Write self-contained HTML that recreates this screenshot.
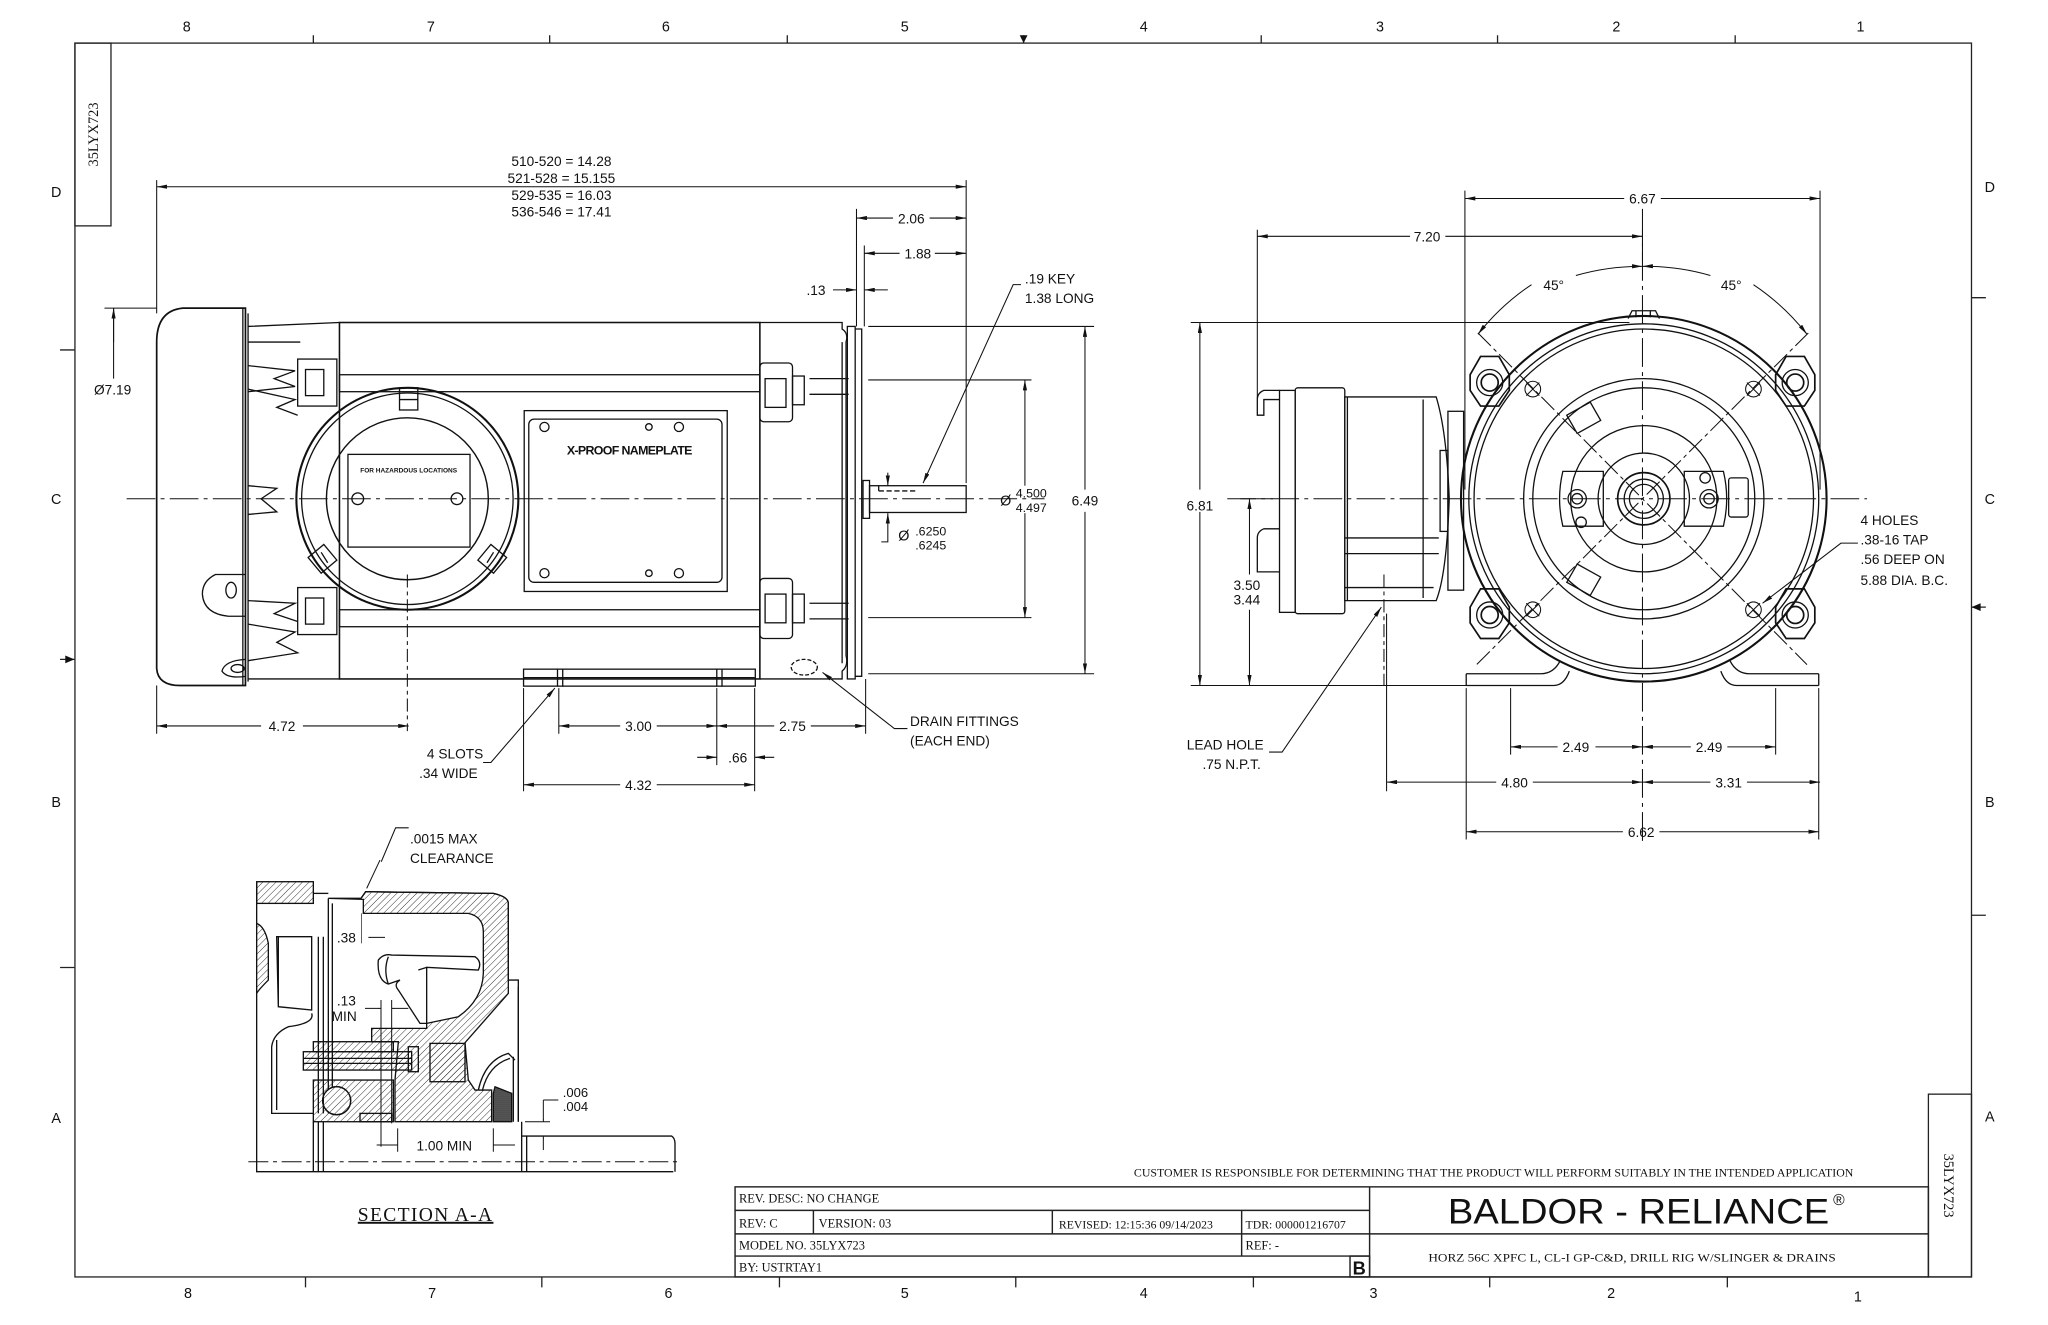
<!DOCTYPE html>
<html><head><meta charset="utf-8"><style>
html,body{margin:0;padding:0;background:#fff;}
svg{display:block;}
text{font-family:"Liberation Sans",sans-serif;fill:#111;}
.s{font-family:"Liberation Serif",serif;}
</style></head><body>
<svg width="2048" height="1325" viewBox="0 0 1568.6 1014.8" preserveAspectRatio="none" xmlns="http://www.w3.org/2000/svg">
<defs>
<marker id="a" viewBox="0 0 10 4" refX="10" refY="2" markerWidth="8" markerHeight="3.2" markerUnits="userSpaceOnUse" orient="auto-start-reverse"><path d="M0,0 L10,2 L0,4 Z" fill="#111"/></marker>
<pattern id="h" patternUnits="userSpaceOnUse" width="14" height="14" patternTransform="rotate(45)"><line x1="0" y1="0" x2="0" y2="14" stroke="#111" stroke-width="2.5"/></pattern>
<pattern id="x" patternUnits="userSpaceOnUse" width="6" height="6"><rect width="6" height="6" fill="#fff"/><path d="M0,0 L6,6 M6,0 L0,6" stroke="#111" stroke-width="2"/></pattern>
</defs>
<rect x="0" y="0" width="1568.6" height="1014.8" fill="#fff"/>
<g fill="none" stroke="#222" stroke-width="1">
<rect x="57.4" y="33" width="1452.6" height="945"/>
<rect x="57.4" y="33" width="27.6" height="140"/>
<rect x="1477" y="838" width="33" height="140"/>
<path d="M240,27V33 M421,27V33 M603,27V33 M784,27V33 M966,27V33 M1147,27V33 M1329,27V33"/>
<path d="M234,978V986 M415,978V986 M597,978V986 M778,978V986 M960,978V986 M1141,978V986 M1323,978V986"/>
<path d="M46,268H57 M46,741H57 M1510,228H1521 M1510,701H1521"/>
<path d="M46,505H57 M1510,465H1521"/>
</g>
<path d="M57,505 l-7,-3 v6z M1510,465 l7,-3 v6z M784,33 l-3,-6 h6z" fill="#111"/>
<g font-size="11" text-anchor="middle">
<text x="143" y="24">8</text><text x="330" y="24">7</text><text x="510" y="24">6</text><text x="693" y="24">5</text><text x="876" y="24">4</text><text x="1057" y="24">3</text><text x="1238" y="24">2</text><text x="1425" y="24">1</text>
<text x="144" y="994">8</text><text x="331" y="994">7</text><text x="512" y="994">6</text><text x="693" y="994">5</text><text x="876" y="994">4</text><text x="1052" y="994">3</text><text x="1234" y="994">2</text><text x="1423" y="997">1</text>
<text x="43" y="151">D</text><text x="43" y="386">C</text><text x="43" y="618">B</text><text x="43" y="860">A</text>
<text x="1524" y="147">D</text><text x="1524" y="386">C</text><text x="1524" y="618">B</text><text x="1524" y="859">A</text>
</g>
<text class="s" font-size="11" transform="translate(75,103) rotate(-90)" text-anchor="middle">35LYX723</text>
<text class="s" font-size="11" transform="translate(1489,908) rotate(90)" text-anchor="middle">35LYX723</text>

<g fill="none" stroke="#111" stroke-width="1">
<path d="M97,382H800" stroke-dasharray="22,4,3,4" stroke-width="0.8"/>
<path d="M188,236 H140 Q120,238 120,262 V512 Q121,525 138,525 H188 Z" stroke-width="1.3"/>
<path d="M186,236V525 M190,240V522"/>
<path d="M190,250 L260,247 M190,520 L260,520 M190,262 L230,262"/>
<path d="M190,280 L226,284 L210,290 L226,296 L190,300 M190,298 L226,306 L212,312 L228,318"/>
<path d="M190,372 L212,374 L200,382 L212,392 L190,394"/>
<path d="M190,460 L226,462 L210,470 L228,476 M190,478 L226,484 L212,492 L228,500 L190,506"/>
<rect x="228" y="275" width="30" height="36"/><rect x="234" y="283" width="14" height="20"/>
<rect x="228" y="450" width="30" height="36"/><rect x="234" y="458" width="14" height="20"/>
<path d="M188,440 H165 Q155,445 155,455 Q156,470 175,472 H188"/><ellipse cx="177" cy="452" rx="4" ry="6"/>
<path d="M188,505 Q172,506 170,514 Q174,520 188,518"/><ellipse cx="182" cy="512" rx="5" ry="3"/>
<rect x="260" y="247" width="322" height="273" stroke-width="1.2"/>
<rect x="260" y="287" width="322" height="13"/>
<rect x="260" y="467" width="322" height="13"/>
<path d="M582,247 H645 V252 Q650,255 648,262 V502 Q650,510 645,514 V520 H582"/>
<path d="M645,262 V508"/>
<rect x="649" y="250" width="6" height="270"/>
<path d="M655,252 H660 V518 H655"/>
<path d="M620,290 H650 M620,302 H650 M620,462 H650 M620,474 H650"/>
<rect x="582" y="278" width="25" height="45" rx="3"/><rect x="586" y="290" width="16" height="22"/><rect x="607" y="288" width="9" height="22"/>
<rect x="582" y="443" width="25" height="46" rx="3"/><rect x="586" y="455" width="16" height="22"/><rect x="607" y="455" width="9" height="22"/>
<ellipse cx="616" cy="511" rx="10" ry="6" stroke-dasharray="3,1.5"/>
<circle cx="312" cy="382" r="85" stroke-width="1.6"/>
<circle cx="312" cy="382" r="81"/>
<circle cx="312" cy="382" r="62" stroke-width="1.1"/>
<rect x="266.5" y="348" width="93.5" height="71"/>
<circle cx="274" cy="382" r="4.5"/><circle cx="350" cy="382" r="4.5"/>
<rect x="306" y="297" width="14" height="17"/><path d="M306,306H320"/>
<path d="M236,427 l12,-10 l10,12 l-12,10z M246,423 l5,8"/>
<path d="M388,427 l-12,-10 l-10,12 l12,10z M378,423 l-5,8"/>
<path d="M312,440 V560" stroke-dasharray="10,3,3,3" stroke-width="0.8"/>
<rect x="401.5" y="314.5" width="155.5" height="138.5"/>
<rect x="405" y="321" width="148" height="125" rx="4"/>
<circle cx="417" cy="327" r="3.5"/><circle cx="497" cy="327" r="2.5"/><circle cx="520" cy="327" r="3.5"/>
<circle cx="417" cy="439" r="3.5"/><circle cx="497" cy="439" r="2.5"/><circle cx="520" cy="439" r="3.5"/>
<rect x="401" y="512.5" width="177.5" height="13"/><path d="M401,519H578 M427,512V526 M431,512V526 M549,512V526 M553,512V526"/>
<rect x="661" y="368" width="5" height="29"/>
<rect x="666" y="372" width="74" height="20.5"/>
<path d="M673,376H703 M673,372V376" stroke-dasharray="4,2"/>
</g>
<text x="482" y="348" font-size="9.5" font-weight="bold" text-anchor="middle" letter-spacing="-0.5">X-PROOF NAMEPLATE</text>
<text x="313" y="362" font-size="5" font-weight="bold" text-anchor="middle">FOR HAZARDOUS LOCATIONS</text>

<g fill="none" stroke="#111" stroke-width="0.8">
<path d="M120,138V240 M740,138V370 M656,160V250 M662,188V250"/>
<path d="M120,143H740" marker-start="url(#a)" marker-end="url(#a)"/>
<path d="M684,167H656" marker-end="url(#a)"/><path d="M712,167H740" marker-end="url(#a)"/>
<path d="M689,194H662" marker-end="url(#a)"/><path d="M716,194H740" marker-end="url(#a)"/>
<path d="M638,222H656" marker-end="url(#a)"/><path d="M680,222H662" marker-end="url(#a)"/>
<path d="M782,218 H776 L707,370" marker-end="url(#a)"/>
<path d="M80,236H120 M87,236V290" /><path d="M87,262V236" marker-end="url(#a)"/>
<path d="M665,291H790 M665,473H790"/>
<path d="M785,372V291" marker-end="url(#a)"/><path d="M785,393V473" marker-end="url(#a)"/>
<path d="M665,250H838 M665,516H838"/>
<path d="M831,375V250" marker-end="url(#a)"/><path d="M831,392V516" marker-end="url(#a)"/>
<path d="M675,415 H680 V393" marker-end="url(#a)"/><path d="M680,362V372" marker-end="url(#a)"/>
<path d="M120,525V562 M401,527V606 M428,527V562 M549,527V586 M578,527V606 M663,520V562"/>
<path d="M200,556H120" marker-end="url(#a)"/><path d="M232,556H313" marker-end="url(#a)"/>
<path d="M475,556H428" marker-end="url(#a)"/><path d="M503,556H549" marker-end="url(#a)"/>
<path d="M593,556H549" marker-end="url(#a)"/><path d="M621,556H663" marker-end="url(#a)"/>
<path d="M534,580H549" marker-end="url(#a)"/><path d="M593,580H578" marker-end="url(#a)"/>
<path d="M475,601H401" marker-end="url(#a)"/><path d="M503,601H578" marker-end="url(#a)"/>
<path d="M370,584 H376 L425,527" marker-end="url(#a)"/>
<path d="M695,558 H685 L630,515" marker-end="url(#a)"/>
</g>
<g font-size="10.5" text-anchor="middle">
<text x="430" y="127">510-520 = 14.28</text>
<text x="430" y="140">521-528 = 15.155</text>
<text x="430" y="153">529-535 = 16.03</text>
<text x="430" y="166">536-546 = 17.41</text>
<text x="698" y="171">2.06</text>
<text x="703" y="198">1.88</text>
<text x="625" y="226">.13</text>
<text x="216" y="560">4.72</text>
<text x="489" y="560">3.00</text>
<text x="607" y="560">2.75</text>
<text x="565" y="584">.66</text>
<text x="489" y="605">4.32</text>
<text x="831" y="387">6.49</text>
</g>
<g font-size="10.5">
<text x="785" y="217">.19 KEY</text><text x="785" y="232">1.38 LONG</text>
<text x="72" y="302">Ø7.19</text>
<text x="766" y="387" font-size="11">Ø</text><text x="778" y="381" font-size="9.5">4.500</text><text x="778" y="392" font-size="9.5">4.497</text>
<text x="688" y="414" font-size="11">Ø</text><text x="701" y="410" font-size="9.5">.6250</text><text x="701" y="421" font-size="9.5">.6245</text>
<text x="327" y="581">4 SLOTS</text><text x="321" y="596">.34 WIDE</text>
<text x="697" y="556">DRAIN FITTINGS</text><text x="697" y="571">(EACH END)</text>
</g>

<g fill="none" stroke="#111" stroke-width="1">
<path d="M940,382H1430" stroke-dasharray="22,4,3,4" stroke-width="0.8"/>
<path d="M1258,160V645" stroke-dasharray="22,4,3,4" stroke-width="0.8"/>
<circle cx="1259" cy="382" r="140" stroke-width="1.6"/>
<circle cx="1259" cy="382" r="134"/>
<circle cx="1259" cy="382" r="130"/>
<circle cx="1259" cy="382" r="92"/>
<circle cx="1259" cy="382" r="85"/>
<circle cx="1259" cy="382" r="56"/>
<circle cx="1259" cy="382" r="35"/>
<circle cx="1259" cy="382" r="20" stroke-width="1.3"/>
<circle cx="1259" cy="382" r="15"/>
<circle cx="1259" cy="382" r="11"/>
<path d="M1247,244 L1250,238 H1268 L1271,244 M1253,238V243 M1264,238V243"/>
<path d="M1126,287 l8,-14 l14,0 l8,14 l0,12 l-8,12 l-14,0 l-8,-12z" stroke-width="1.3"/><circle cx="1141" cy="293" r="10"/><circle cx="1141" cy="293" r="6.5" stroke-width="1.3"/>
<path d="M1360,287 l8,-14 l14,0 l8,14 l0,12 l-8,12 l-14,0 l-8,-12z" stroke-width="1.3"/><circle cx="1375" cy="293" r="10"/><circle cx="1375" cy="293" r="6.5" stroke-width="1.3"/>
<path d="M1126,465 l8,-14 l14,0 l8,14 l0,12 l-8,12 l-14,0 l-8,-12z" stroke-width="1.3"/><circle cx="1141" cy="471" r="10"/><circle cx="1141" cy="471" r="6.5" stroke-width="1.3"/>
<path d="M1360,465 l8,-14 l14,0 l8,14 l0,12 l-8,12 l-14,0 l-8,-12z" stroke-width="1.3"/><circle cx="1375" cy="471" r="10"/><circle cx="1375" cy="471" r="6.5" stroke-width="1.3"/>
<g stroke-width="0.8">
<circle cx="1174" cy="298" r="6"/><path d="M1169,293l10,10M1179,293l-10,10"/>
<circle cx="1343" cy="298" r="6"/><path d="M1338,293l10,10M1348,293l-10,10"/>
<circle cx="1174" cy="467" r="6"/><path d="M1169,462l10,10M1179,462l-10,10"/>
<circle cx="1343" cy="467" r="6"/><path d="M1338,462l10,10M1348,462l-10,10"/>
<path d="M1132,255 L1384,509 M1385,255 L1131,509" stroke-dasharray="14,3,3,3"/>
</g>
<path d="M1200,318 l18,-10 l8,14 l-18,10z M1200,446 l18,10 l8,-14 l-18,-10z"/>
<rect x="1324" y="366" width="15" height="30" rx="2"/>
<path d="M1197,361 H1228 V403 H1197 Q1192,382 1197,361 Z M1290,361 H1320 Q1325,382 1320,403 H1290 Z"/>
<circle cx="1208" cy="382" r="7"/><circle cx="1208" cy="382" r="4"/>
<circle cx="1309" cy="382" r="7"/><circle cx="1309" cy="382" r="4"/>
<circle cx="1211" cy="400" r="4"/><circle cx="1306" cy="366" r="4"/>
<path d="M1123,516 H1180 Q1190,516 1195,506 M1123,525 H1190 Q1198,525 1202,514"/>
<path d="M1393,516 H1340 Q1330,516 1325,506 M1393,525 H1330 Q1322,525 1318,514"/>
<path d="M1123,516V525 M1393,516V525"/>
<path d="M980,299 H968 Q963,301 963,306 V318 H968 V306 H980"/>
<path d="M980,405 H968 Q963,407 963,412 V438 H980"/>
<rect x="980" y="299" width="12" height="170"/>
<rect x="992" y="297" width="38" height="173" rx="2"/>
<path d="M1030,304 H1100 Q1108,330 1110,382 Q1108,440 1100,460 H1030 Z"/>
<path d="M1032,304V460 M1090,306V458 M1030,412H1102 M1030,424H1102 M1030,450H1098"/>
<rect x="1109" y="315" width="12" height="137"/>
<rect x="1103" y="345" width="6" height="62"/>
<path d="M1060,440V525" stroke-dasharray="10,3,3,3" stroke-width="0.8"/>
</g>
<g fill="none" stroke="#111" stroke-width="0.8">
<path d="M1122,146V375 M1394,146V375 M963,176V305 M1258,176V200"/>
<path d="M1244,152H1122" marker-end="url(#a)"/><path d="M1272,152H1394" marker-end="url(#a)"/>
<path d="M1080,181H963" marker-end="url(#a)"/><path d="M1107,181H1258" marker-end="url(#a)"/>
<path d="M1173,218 A178,178 0 0 0 1132,256" marker-end="url(#a)"/>
<path d="M1207,211 A178,178 0 0 1 1258,204" marker-end="url(#a)"/>
<path d="M1343,218 A178,178 0 0 1 1384,256" marker-end="url(#a)"/>
<path d="M1310,211 A178,178 0 0 0 1258,204" marker-end="url(#a)"/>
<path d="M912,247H1248 M912,525H1125 M950,382H975"/>
<path d="M919,375V247" marker-end="url(#a)"/><path d="M919,392V525" marker-end="url(#a)"/>
<path d="M957,440V382" marker-end="url(#a)"/><path d="M957,467V525" marker-end="url(#a)"/>
<path d="M1062,470V606 M1123,527V643 M1157,527V578 M1360,527V578 M1393,527V643"/>
<path d="M1193,572H1157" marker-end="url(#a)"/><path d="M1222,572H1258" marker-end="url(#a)"/>
<path d="M1295,572H1258" marker-end="url(#a)"/><path d="M1323,572H1360" marker-end="url(#a)"/>
<path d="M1146,599H1062" marker-end="url(#a)"/><path d="M1174,599H1258" marker-end="url(#a)"/>
<path d="M1310,599H1258" marker-end="url(#a)"/><path d="M1338,599H1394" marker-end="url(#a)"/>
<path d="M1243,637H1123" marker-end="url(#a)"/><path d="M1271,637H1393" marker-end="url(#a)"/>
<path d="M1423,416 H1410 L1350,462" marker-end="url(#a)"/>
<path d="M972,576 H982 L1058,465" marker-end="url(#a)"/>
</g>
<g font-size="10.5" text-anchor="middle">
<text x="1258" y="156">6.67</text>
<text x="1093" y="185">7.20</text>
<text x="1190" y="222">45°</text><text x="1326" y="222">45°</text>
<text x="919" y="391">6.81</text>
<text x="955" y="452">3.50</text><text x="955" y="463">3.44</text>
<text x="1207" y="576">2.49</text><text x="1309" y="576">2.49</text>
<text x="1160" y="603">4.80</text><text x="1324" y="603">3.31</text>
<text x="1257" y="641">6.62</text>
</g>
<g font-size="10.5">
<text x="1425" y="402">4 HOLES</text><text x="1425" y="417">.38-16 TAP</text><text x="1425" y="432">.56 DEEP ON</text><text x="1425" y="448">5.88 DIA. B.C.</text>
<text x="909" y="574">LEAD HOLE</text><text x="921" y="589">.75 N.P.T.</text>
</g>

<g transform="translate(187.65,658.7) scale(0.2553)" fill="none" stroke="#111" stroke-width="4">
<path d="M10,905H1310" stroke-dasharray="60,14,12,14" stroke-width="3"/>
<path d="M35,65V935 H1285"/>
<rect x="35" y="65" width="170" height="65" fill="url(#h)"/>
<path d="M205,100 H250"/>
<path d="M250,115 H348 L362,95 L745,100 Q790,110 790,130 V360 H820 V785"/>
<path d="M250,115 L355,118 L355,160 L670,160 Q715,170 715,215 V340 Q712,420 640,470 L545,490 L545,505 L380,505 L380,545 L460,545 L450,660 L450,785 L740,785 L740,690 L690,690 L670,660 L660,548 L790,400 L790,130 Q790,110 745,100 L362,95 L348,115 Z" fill="url(#h)"/>
<path d="M250,115V760 M262,130V760"/>
<rect x="175" y="575" width="325" height="55" fill="url(#h)"/>
<path d="M175,595H500 M175,610H500"/>
<rect x="205" y="545" width="240" height="30" fill="url(#h)"/>
<rect x="205" y="660" width="240" height="125" fill="url(#h)"/>
<circle cx="275" cy="722" r="42" fill="#fff"/><circle cx="275" cy="722" r="42" fill="url(#h)"/>
<rect x="345" y="760" width="95" height="25" fill="url(#h)"/>
<rect x="555" y="550" width="105" height="115" fill="url(#h)"/>
<rect x="490" y="560" width="30" height="75"/>
<path d="M400,300 Q415,280 440,285 L690,290 Q712,305 700,330 L545,322 L545,490 L525,490 L460,390 Q445,372 465,360 L430,372 Q395,360 400,300 Z" fill="#fff"/>
<path d="M430,290 Q415,330 430,372 M520,330 L545,322"/>
<path d="M745,700 L750,680 L800,700 V785 H745 Z" fill="url(#x)"/>
<path d="M700,690 Q720,600 790,580 L810,600 M712,692 Q730,615 795,595"/>
<path d="M805,590V785 M820,380V785"/>
<path d="M35,190 Q60,200 70,250 L70,360 Q40,390 35,400" fill="url(#h)"/>
<path d="M95,230 H200 V450 L100,440 Z M100,230 V440"/>
<path d="M220,230V760 M235,230V760"/>
<path d="M200,460 Q210,490 130,500 Q85,520 80,560 L80,760 H205 M95,540 V750"/>
<path d="M205,785V935 M220,785V935 M235,785V935"/>
<path d="M830,785 V828 H1280 Q1290,835 1290,850 V935 M830,785 V935 M845,828 V935"/>
<path d="M350,160 V250" stroke-width="2"/>
<path d="M420,232H370" marker-end="url(#a)" stroke-width="3"/>
<path d="M408,420V860 M440,420V790" stroke-width="3"/>
<path d="M360,445H408" marker-end="url(#a)" stroke-width="3"/><path d="M490,445H440" marker-end="url(#a)" stroke-width="3"/>
<path d="M395,855H458" marker-end="url(#a)" stroke-width="3"/><path d="M810,855H745" marker-end="url(#a)" stroke-width="3"/>
<path d="M458,805V875 M745,805V875" stroke-width="3"/>
<path d="M895,720V785" marker-end="url(#a)" stroke-width="3"/><path d="M895,870V828" marker-end="url(#a)" stroke-width="3"/>
<path d="M940,720H895 M840,785H915 M850,828H915" stroke-width="3"/>
<path d="M405,0 L365,85" marker-end="url(#a)" stroke-width="3"/>
</g>
<g font-size="10.5">
<text x="314" y="646">.0015 MAX</text><text x="314" y="661">CLEARANCE</text>
<text x="258" y="722">.38</text>
<text x="258" y="770">.13</text><text x="254" y="782">MIN</text>
<text x="431" y="840" font-size="10">.006</text><text x="431" y="851" font-size="10">.004</text>
<text x="319" y="881">1.00 MIN</text>
</g>
<path d="M313,634 H303 L292,660" fill="none" stroke="#111" stroke-width="0.8"/>
<text class="s" x="326" y="935" font-size="15" text-anchor="middle" letter-spacing="1" text-decoration="underline">SECTION  A-A</text>

<text class="s" x="1144" y="901" font-size="8.5" text-anchor="middle" textLength="551" lengthAdjust="spacingAndGlyphs">CUSTOMER IS RESPONSIBLE FOR DETERMINING THAT THE PRODUCT WILL PERFORM SUITABLY IN THE INTENDED APPLICATION</text>
<g fill="none" stroke="#222" stroke-width="1.1">
<rect x="563" y="909" width="914" height="69"/>
<path d="M1049,909V978 M563,927H1049 M563,945H1477 M563,962H1049"/>
<path d="M623,927V945 M806,927V945 M951,927V962"/>
<rect x="1034" y="962" width="15" height="16"/>
</g>
<g class="s" font-size="9.5">
<text class="s" x="566" y="921">REV. DESC: NO CHANGE</text>
<text class="s" x="566" y="940">REV:  C</text>
<text class="s" x="627" y="940">VERSION:  03</text>
<text class="s" x="811" y="941" font-size="9">REVISED:  12:15:36 09/14/2023</text>
<text class="s" x="954" y="941" font-size="9">TDR: 000001216707</text>
<text class="s" x="566" y="957">MODEL NO.  35LYX723</text>
<text class="s" x="954" y="957">REF:  -</text>
<text class="s" x="566" y="974">BY: USTRTAY1</text>
<text class="s" x="1250" y="966" font-size="9" text-anchor="middle" textLength="312" lengthAdjust="spacingAndGlyphs">HORZ 56C XPFC L, CL-I GP-C&amp;D, DRILL RIG W/SLINGER &amp; DRAINS</text>
</g>
<text x="1036" y="976" font-size="14" font-weight="bold">B</text>
<text x="1109" y="937" font-size="27" textLength="292" lengthAdjust="spacingAndGlyphs">BALDOR - RELIANCE</text>
<text x="1404" y="923" font-size="12">®</text>
</svg>
</body></html>
